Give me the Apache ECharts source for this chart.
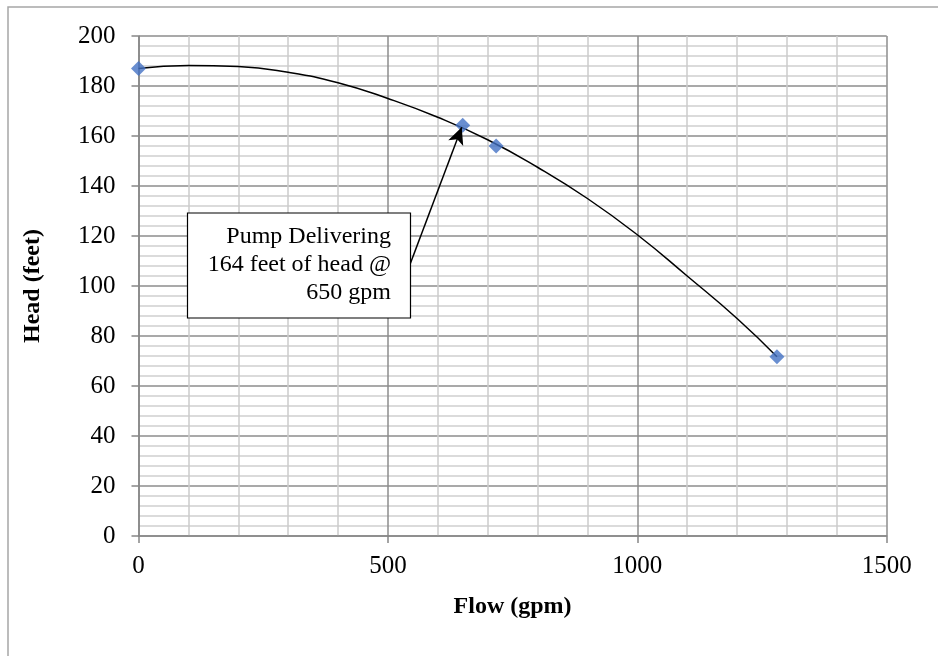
<!DOCTYPE html>
<html>
<head>
<meta charset="utf-8">
<script src="https://cdn.jsdelivr.net/npm/echarts@6/dist/echarts.min.js"></script>
<style>html,body{margin:0;padding:0;background:#fff}#c{width:938px;height:656px}</style>
</head>
<body>
<div id="c"></div>
<script>
// Measured pump points
const flow = [0, 650, 717, 1280];
const head = [187, 164.3, 156, 71.7];
// Trendline
const trendFlow = [0, 100, 200, 300, 400, 500, 600, 700, 800, 900, 1000, 1100, 1200, 1280];
const trendHead = [187, 188.2, 187.8, 185.5, 181.3, 175, 167.5, 158.5, 147.5, 135, 120.5, 104, 87, 71.7];
// Annotation arrow (data coordinates)
const arrowFrom = [545, 109];
const arrowTo = [648, 163.5];
const noteLines = ['Pump Delivering', '164 feet of head @', '650 gpm'];
const xTicks = [0, 500, 1000, 1500];
const yTicks = [0, 20, 40, 60, 80, 100, 120, 140, 160, 180, 200];

const font = 'Liberation Serif, Times New Roman, serif';
const chart = echarts.init(document.getElementById('c'), null, {renderer: 'canvas'});
chart.setOption({
  animation: false,
  backgroundColor: '#fff',
  grid: {left: 138.5, right: 51.3, top: 36, bottom: 120, containLabel: false},
  xAxis: {
    type: 'value', min: xTicks[0], max: xTicks[xTicks.length - 1], interval: 500,
    name: 'Flow (gpm)', nameLocation: 'middle', nameGap: 59,
    nameTextStyle: {fontFamily: font, fontSize: 24, fontWeight: 'bold', color: '#000'},
    axisLine: {show: true, lineStyle: {color: '#868686', width: 1.5}},
    axisTick: {show: true, inside: false, length: 7, lineStyle: {color: '#868686', width: 1.5}},
    minorTick: {show: false, splitNumber: 5},
    axisLabel: {fontFamily: font, fontSize: 25, color: '#000', margin: 18, formatter: v => String(v)},
    splitLine: {show: true, lineStyle: {color: '#8c8c8c', width: 1.5}},
    minorSplitLine: {show: true, lineStyle: {color: '#cccccc', width: 1.5}}
  },
  yAxis: {
    type: 'value', min: yTicks[0], max: yTicks[yTicks.length - 1], interval: 20,
    name: 'Head (feet)', nameLocation: 'middle', nameGap: 94, nameRotate: 90,
    nameTextStyle: {fontFamily: font, fontSize: 24, fontWeight: 'bold', color: '#000'},
    axisLine: {show: true, lineStyle: {color: '#868686', width: 1.5}},
    axisTick: {show: true, inside: false, length: 7, lineStyle: {color: '#868686', width: 1.5}},
    minorTick: {show: false, splitNumber: 5},
    axisLabel: {fontFamily: font, fontSize: 25, color: '#000', margin: 23, formatter: v => String(v)},
    splitLine: {show: true, lineStyle: {color: '#8c8c8c', width: 1.5}},
    minorSplitLine: {show: true, lineStyle: {color: '#d0d0d0', width: 1.5}}
  },
  series: [
    {
      type: 'line', smooth: true, symbol: 'none', z: 3,
      data: trendFlow.map((x, i) => [x, trendHead[i]]),
      lineStyle: {color: '#000', width: 1.5}
    },
    {
      type: 'scatter', symbol: 'diamond', symbolSize: [15, 15], z: 4,
      data: flow.map((x, i) => [x, head[i]]),
      itemStyle: {color: '#4472c4'},
      markLine: {
        silent: true, symbol: ['none', 'arrow'], symbolSize: [12, 17],
        label: {show: false},
        lineStyle: {color: '#000', width: 1.5, type: 'solid'},
        data: [[{coord: arrowFrom}, {coord: arrowTo}]]
      }
    }
  ],
  graphic: [
    {type: 'rect', shape: {x: 8, y: 7, width: 960, height: 700}, style: {fill: 'none', stroke: '#a6a6a6', lineWidth: 1.5}, z: 0, silent: true},
    {type: 'rect', shape: {x: 187.5, y: 213, width: 223, height: 105}, style: {fill: '#fff', stroke: '#000', lineWidth: 1.2}, z: 100},
    {type: 'text', x: 391, y: 223, style: {text: noteLines.join('\n'), fill: '#000', font: '24px ' + font, align: 'right', verticalAlign: 'top', lineHeight: 28}, z: 101}
  ]
});
</script>
</body>
</html>
